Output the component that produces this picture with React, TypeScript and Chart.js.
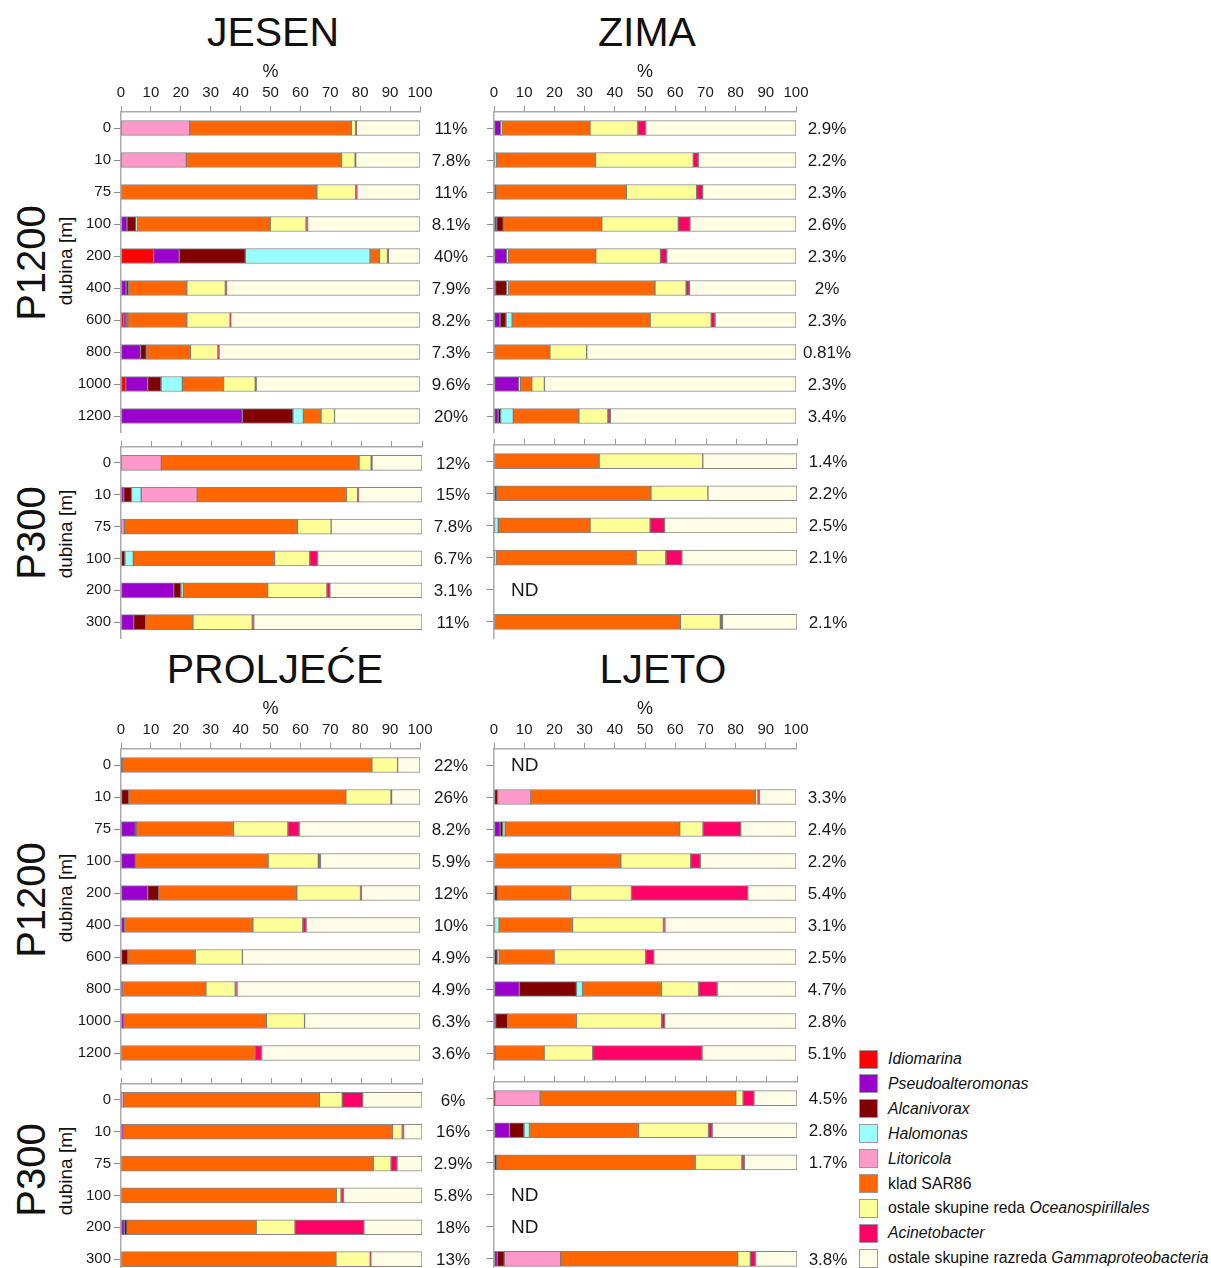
import React, { useEffect, useRef } from 'react';
import { Chart, registerables } from 'chart.js';

Chart.register(...registerables);

const FONT = '"Liberation Sans", Arial, sans-serif';
Chart.defaults.font.family = FONT;

// ---------- series ----------
const SERIES_PLAIN = ['', '', '', '', '', 'klad SAR86', 'ostale skupine reda ', '', 'ostale skupine razreda '];
const SERIES_ITALIC = ['Idiomarina', 'Pseudoalteromonas', 'Alcanivorax', 'Halomonas', 'Litoricola', '', 'Oceanospirillales', 'Acinetobacter', 'Gammaproteobacteria'];
const COLORS = ['#ff0000', '#9900cc', '#800000', '#99ffff', '#ff99cc', '#ff6600', '#ffff99', '#ff0066', '#fffde6'];

// ---------- categories ----------
const DEPTHS_P1200 = ['0', '10', '75', '100', '200', '400', '600', '800', '1000', '1200'];
const DEPTHS_P300 = ['0', '10', '75', '100', '200', '300'];
const X_TICKS_MAX = 100;

// ---------- data (Idio, Pseudo, Alcan, Halo, Lito, SAR86, Oceano, Acineto, Gamma) ----------
const jesenP1200 = [
  [0, 0, 0, 0, 23, 54, 1.5, 0.2, 21.3],
  [0, 0, 0, 0, 21.8, 51.9, 4.6, 0.2, 21.5],
  [0, 0, 0, 0, 0, 65.5, 13, 0.4, 21.1],
  [0, 2, 3, 0.5, 0, 44.4, 12, 0.5, 37.6],
  [10.9, 8.6, 22.1, 41.7, 0, 3.1, 2.7, 0.3, 10.6],
  [0, 1.7, 0.8, 0, 0, 19.5, 12.9, 0.4, 64.7],
  [0.9, 0.8, 0.6, 0, 0, 19.7, 14.5, 0.2, 63.3],
  [0, 6.5, 2, 0, 0, 14.7, 9.2, 0.4, 67.2],
  [1.6, 7.3, 4.5, 7.1, 0, 13.8, 10.6, 0.3, 54.8],
  [0, 40.6, 16.9, 3.5, 0, 5.9, 4.5, 0, 28.6],
];
const jesenP1200Pct = ['11%', '7.8%', '11%', '8.1%', '40%', '7.9%', '8.2%', '7.3%', '9.6%', '20%'];

const jesenP300 = [
  [0, 0, 0, 0, 13.4, 65.7, 4, 0.3, 16.6],
  [0, 0.9, 2.6, 3.2, 18.6, 49.6, 3.7, 0.3, 21.1],
  [0, 0, 0, 0, 1.1, 57.5, 11.2, 0, 30.2],
  [0, 0, 1.3, 2.8, 0, 46.9, 11.7, 2.6, 34.7],
  [0, 17.5, 2.4, 0.8, 0, 28, 19.7, 1, 30.6],
  [0, 4.2, 4, 0, 0, 15.7, 19.7, 0.5, 55.9],
];
const jesenP300Pct = ['12%', '15%', '7.8%', '6.7%', '3.1%', '11%'];

const zimaP1200 = [
  [0, 2.2, 0, 0.4, 0, 29.2, 15.8, 2.6, 49.8],
  [0, 0, 0, 0.9, 0, 32.7, 32.4, 1.7, 32.3],
  [0, 0, 0.6, 0, 0, 43.2, 23.3, 2, 30.9],
  [0, 0.9, 2.2, 0, 0, 32.6, 25.3, 3.9, 35.1],
  [0, 4.2, 0, 0.5, 0, 29, 21.4, 2.1, 42.8],
  [0, 0.5, 3.7, 0.6, 0, 48.5, 10.3, 1.1, 35.3],
  [0, 2, 2, 2, 0, 45.7, 20.2, 1.3, 26.8],
  [0, 0, 0, 0, 0, 18.5, 12.2, 0, 69.3],
  [0, 8.2, 0, 0.5, 0, 3.8, 4.2, 0, 83.3],
  [0, 1.4, 0.8, 4.2, 0, 21.7, 9.6, 0.8, 61.5],
];
const zimaP1200Pct = ['2.9%', '2.2%', '2.3%', '2.6%', '2.3%', '2%', '2.3%', '0.81%', '2.3%', '3.4%'];

const zimaP300 = [
  [0, 0, 0, 0, 0, 34.7, 34.2, 0, 31.1],
  [0, 0.9, 0, 0, 0, 50.9, 18.8, 0, 29.4],
  [0, 0, 0, 1.4, 0, 30.3, 19.8, 4.8, 43.7],
  [0, 0, 0, 0.7, 0, 46.2, 9.8, 5.3, 38],
  null,
  [0, 0, 0, 0, 0, 61.5, 13.2, 0.7, 24.6],
];
const zimaP300Pct = ['1.4%', '2.2%', '2.5%', '2.1%', 'ND', '2.1%'];

const proljeceP1200 = [
  [0, 0, 0.4, 0, 0, 83.5, 8.6, 0, 7.5],
  [0, 0, 2.6, 0, 0, 72.6, 15.1, 0.2, 9.5],
  [0, 4.8, 0.3, 0, 0, 32.5, 18.2, 3.8, 40.4],
  [0, 4.8, 0, 0, 0, 44.4, 16.8, 0.7, 33.3],
  [0, 8.9, 3.7, 0, 0, 46.2, 21.3, 0.3, 19.6],
  [0, 1.2, 0, 0, 0, 42.9, 16.7, 1.1, 38.1],
  [0, 0, 2.3, 0, 0, 22.5, 15.8, 0, 59.4],
  [0, 0.5, 0, 0, 0, 27.9, 9.8, 0.6, 61.2],
  [0, 0.9, 0, 0, 0, 47.7, 12.8, 0, 38.6],
  [0, 0, 0, 0, 0, 44.9, 0, 2.1, 53],
];
const proljeceP1200Pct = ['22%', '26%', '8.2%', '5.9%', '12%', '10%', '4.9%', '4.9%', '6.3%', '3.6%'];

const proljeceP300 = [
  [0, 0, 0, 0, 0.9, 65, 7.6, 6.8, 19.7],
  [0, 0.7, 0, 0, 0, 89.5, 3.2, 0.5, 6.1],
  [0, 0, 0, 0, 0, 83.8, 5.9, 2, 8.3],
  [0, 0, 0, 0, 0, 71.5, 1.6, 0.8, 26.1],
  [0, 1.1, 0.9, 0, 0, 42.9, 12.9, 22.9, 19.3],
  [0, 0, 0, 0, 0, 71.4, 11.4, 0.2, 17],
];
const proljeceP300Pct = ['6%', '16%', '2.9%', '5.8%', '18%', '13%'];

const ljetoP1200 = [
  null,
  [0, 0, 1.2, 0, 11, 74.3, 0.9, 0.5, 12.1],
  [0, 2, 0.9, 0.8, 0, 57.8, 7.7, 12.5, 18.3],
  [0, 0, 0, 0, 0, 42, 23.1, 3.2, 31.7],
  [0, 0, 1.1, 0, 0, 24.3, 20.1, 38.5, 16],
  [0, 0, 0, 1.7, 0, 24.3, 30.1, 0.5, 43.4],
  [0, 0, 1.1, 0.5, 0, 18.3, 30.3, 2.7, 47.1],
  [0, 8.4, 18.9, 2, 0, 26.1, 12.3, 6.2, 26.1],
  [0, 0.5, 4, 0, 0, 22.8, 28.2, 1, 43.5],
  [0, 0, 0.4, 0, 0, 16.2, 16.1, 36.2, 31.1],
];
const ljetoP1200Pct = ['ND', '3.3%', '2.4%', '2.2%', '5.4%', '3.1%', '2.5%', '4.7%', '2.8%', '5.1%'];

const ljetoP300 = [
  [0, 0, 0.3, 0, 14.9, 64.6, 2.4, 3.6, 14.2],
  [0, 5.1, 4.8, 1.8, 0, 36, 23.1, 1.2, 28],
  [0, 0, 0.9, 0, 0, 65.5, 15.4, 0.8, 17.4],
  null,
  null,
  [0, 1.1, 2.3, 0, 18.6, 58.4, 4.2, 1.7, 13.7],
];
const ljetoP300Pct = ['4.5%', '2.8%', '1.7%', 'ND', 'ND', '3.8%'];

const SEASONS = ['JESEN', 'ZIMA', 'PROLJEĆE', 'LJETO'];

type PanelProps = {
  left: number;
  top: number;
  areaW: number;
  rowH: number;
  xH: number;
  yW: number;
  rows: (number[] | null)[];
  labels: string[];
  pct: string[];
  showX: boolean;
  showY: boolean;
};

const PAD_R = 60;
const PAD_B = 12;

function Panel(p: PanelProps) {
  const ref = useRef<HTMLCanvasElement>(null);
  const width = p.yW + p.areaW + PAD_R;
  const height = Math.round(p.xH + p.rowH * p.labels.length + PAD_B);

  useEffect(() => {
    const datasets = SERIES_ITALIC.map((it, s) => ({
      label: SERIES_PLAIN[s] + it,
      data: p.rows.map((r) => (r && r[s] > 0 ? r[s] : null)),
      backgroundColor: COLORS[s],
      borderColor: 'rgba(95,95,95,0.75)',
      borderWidth: 1,
      borderSkipped: false as const,
      barThickness: 15,
    }));

    const pctPlugin = {
      id: 'pctLabels',
      afterDraw(chart: any) {
        const { ctx, chartArea } = chart;
        const ys = chart.scales.y;
        const xs = chart.scales.x;
        ctx.save();
        ctx.fillStyle = '#1a1a1a';
        ctx.textBaseline = 'middle';
        p.pct.forEach((t, i) => {
          const py = ys.getPixelForValue(i);
          if (t === 'ND') {
            ctx.font = `19px ${FONT}`;
            ctx.textAlign = 'left';
            ctx.fillText('ND', xs.getPixelForValue(0) + 17, py + 1);
          } else {
            ctx.font = `17px ${FONT}`;
            ctx.textAlign = 'center';
            ctx.fillText(t, chartArea.right + 31, py + 1);
          }
        });
        ctx.restore();
      },
    };

    const chart = new Chart(ref.current as HTMLCanvasElement, {
      type: 'bar',
      data: { labels: p.labels, datasets: datasets as any },
      options: {
        indexAxis: 'y',
        animation: false,
        responsive: false,
        maintainAspectRatio: false,
        events: [],
        layout: { padding: { left: 0, right: PAD_R, top: 0, bottom: PAD_B } },
        plugins: { legend: { display: false }, tooltip: { enabled: false } },
        scales: {
          x: {
            type: 'linear',
            position: 'top',
            min: 0,
            max: X_TICKS_MAX,
            stacked: true,
            ticks: {
              display: p.showX,
              stepSize: 10,
              autoSkip: false,
              maxRotation: 0,
              padding: 4,
              color: '#1a1a1a',
              font: { size: 15, family: FONT },
            },
            grid: { drawOnChartArea: false, drawTicks: true, tickLength: 6, color: '#9a9a9a', lineWidth: 1 },
            border: { display: true, color: '#aaaaaa', width: 1.5 },
            title: {
              display: p.showX,
              text: '%',
              color: '#1a1a1a',
              font: { size: 18, family: FONT },
              padding: { top: 9, bottom: 0 },
            },
            afterFit: (s: any) => {
              s.height = p.xH;
            },
          } as any,
          y: {
            type: 'category',
            position: 'left',
            stacked: true,
            offset: true,
            ticks: {
              display: p.showY,
              autoSkip: false,
              padding: 3,
              color: '#1a1a1a',
              font: { size: 15, family: FONT },
            },
            grid: { offset: false, drawOnChartArea: false, drawTicks: true, tickLength: 7, color: '#8a8a8a', lineWidth: 1 },
            border: { display: true, color: '#aaaaaa', width: 1.5 },
            afterFit: (s: any) => {
              s.width = p.yW;
            },
          } as any,
        },
      },
      plugins: [pctPlugin],
    });
    return () => chart.destroy();
  }, []);

  return (
    <canvas
      ref={ref}
      width={width}
      height={height}
      style={{ position: 'absolute', left: p.left, top: p.top, width, height }}
    />
  );
}

function Title({ text, x, y }: { text: string; x: number; y: number }) {
  return (
    <div
      style={{
        position: 'absolute',
        left: x,
        top: y,
        transform: 'translate(-50%, -50%)',
        fontSize: 41,
        lineHeight: 1,
        whiteSpace: 'nowrap',
        color: '#111',
      }}
    >
      {text}
    </div>
  );
}

function SideLabel({ text, x, y, size }: { text: string; x: number; y: number; size: number }) {
  return (
    <div
      style={{
        position: 'absolute',
        left: x,
        top: y,
        transform: 'translate(-50%, -50%) rotate(-90deg)',
        fontSize: size,
        lineHeight: 1,
        whiteSpace: 'nowrap',
        color: '#111',
      }}
    >
      {text}
    </div>
  );
}

export default function App() {
  const topY = 0;
  const botY = 637;
  const leftPlot = 121;
  const rightPlot = 494;
  const side = (dy: number) => (
    <>
      <SideLabel text="P1200" x={31} y={263 + dy} size={40} />
      <SideLabel text="dubina [m]" x={65} y={261 + dy} size={19} />
      <SideLabel text="P300" x={31} y={533 + dy} size={40} />
      <SideLabel text="dubina [m]" x={65} y={534 + dy} size={19} />
    </>
  );
  return (
    <div
      style={{
        position: 'absolute',
        left: 0,
        top: 0,
        width: 1211,
        height: 1268,
        overflow: 'hidden',
        background: '#fff',
        fontFamily: FONT,
      }}
    >
      <Title text={SEASONS[0]} x={273} y={32} />
      <Title text={SEASONS[1]} x={647} y={32} />
      <Title text={SEASONS[2]} x={275} y={669} />
      <Title text={SEASONS[3]} x={663} y={669} />
      {side(topY)}
      {side(botY)}

      {/* JESEN */}
      <Panel left={leftPlot - 50} top={112 - 60} areaW={299} rowH={32} xH={60} yW={50}
        rows={jesenP1200} labels={DEPTHS_P1200} pct={jesenP1200Pct} showX showY />
      <Panel left={leftPlot - 50} top={445 - 10} areaW={301} rowH={32.15} xH={10} yW={50}
        rows={jesenP300} labels={DEPTHS_P300} pct={jesenP300Pct} showX={false} showY />
      {/* ZIMA */}
      <Panel left={rightPlot - 10} top={112 - 60} areaW={302} rowH={32} xH={60} yW={10}
        rows={zimaP1200} labels={DEPTHS_P1200} pct={zimaP1200Pct} showX showY={false} />
      <Panel left={rightPlot - 10} top={445 - 10} areaW={303} rowH={32.15} xH={10} yW={10}
        rows={zimaP300} labels={DEPTHS_P300} pct={zimaP300Pct} showX={false} showY={false} />
      {/* PROLJEĆE */}
      <Panel left={leftPlot - 50} top={749 - 60} areaW={299} rowH={32} xH={60} yW={50}
        rows={proljeceP1200} labels={DEPTHS_P1200} pct={proljeceP1200Pct} showX showY />
      <Panel left={leftPlot - 50} top={1082 - 10} areaW={301} rowH={32.2} xH={10} yW={50}
        rows={proljeceP300} labels={DEPTHS_P300} pct={proljeceP300Pct} showX={false} showY />
      {/* LJETO */}
      <Panel left={rightPlot - 10} top={749 - 60} areaW={302} rowH={32} xH={60} yW={10}
        rows={ljetoP1200} labels={DEPTHS_P1200} pct={ljetoP1200Pct} showX showY={false} />
      <Panel left={rightPlot - 10} top={1082 - 10} areaW={303} rowH={32.2} xH={10} yW={10}
        rows={ljetoP300} labels={DEPTHS_P300} pct={ljetoP300Pct} showX={false} showY={false} />

      {/* Legend */}
      {SERIES_ITALIC.map((it, i) => {
        const cy = 1059 + 24.9 * i;
        return (
          <React.Fragment key={i}>
            <div
              style={{
                position: 'absolute',
                left: 859,
                top: cy - 9.5,
                width: 17,
                height: 17,
                background: COLORS[i],
                border: '1px solid #9a9a9a',
              }}
            />
            <div
              style={{
                position: 'absolute',
                left: 888,
                top: cy,
                transform: 'translateY(-50%)',
                fontSize: 15.8,
                lineHeight: 1,
                whiteSpace: 'nowrap',
                color: '#111',
              }}
            >
              {SERIES_PLAIN[i]}
              {it && <i>{it}</i>}
            </div>
          </React.Fragment>
        );
      })}
    </div>
  );
}
